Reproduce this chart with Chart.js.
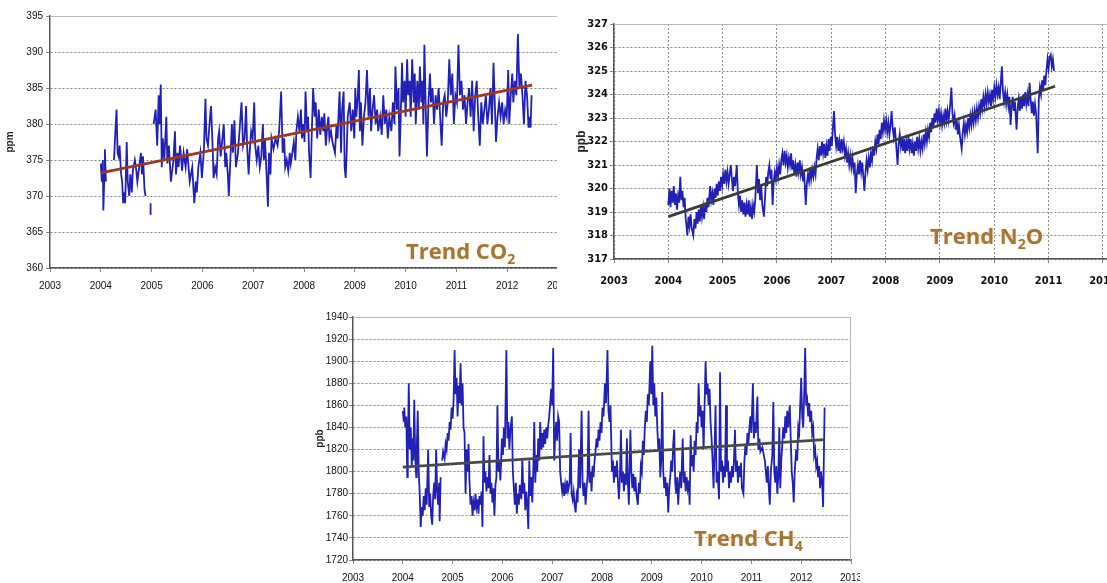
<!DOCTYPE html>
<html><head><meta charset="utf-8">
<script src="https://cdn.jsdelivr.net/npm/chart.js@4.4.1/dist/chart.umd.min.js"></script>
<style>
html,body{margin:0;padding:0;background:#fff;}
body{width:1107px;height:583px;position:relative;overflow:hidden;}
.panel{position:absolute;overflow:hidden;background:#fff;}
.panel canvas{position:absolute;left:0;top:0;}
.trend{position:absolute;font-family:'Open Sans',sans-serif;font-weight:700;font-size:22px;line-height:22px;color:#a67635;white-space:nowrap;text-shadow:0 0 3px #f5e9cc;}
.trend sub{font-size:14px;vertical-align:-5px;line-height:0;}
</style></head><body>
<div class="panel" style="left:0;top:0;width:557px;height:294px"><canvas id="c1" width="590" height="294"></canvas></div>
<div class="panel" style="left:563px;top:0;width:544px;height:294px"><canvas id="c2" width="620" height="294"></canvas></div>
<div class="panel" style="left:300px;top:296px;width:560px;height:287px"><canvas id="c3" width="580" height="287"></canvas></div>
<div class="trend" style="left:406px;top:239px">Trend CO<sub>2</sub></div>
<div class="trend" style="left:930px;top:224px">Trend N<sub>2</sub>O</div>
<div class="trend" style="left:694px;top:526px">Trend CH<sub>4</sub></div>
<script>
const yearLabels = ['2003','2004','2005','2006','2007','2008','2009','2010','2011','2012','2013'];
const co2YLabels = ['360','365','370','375','380','385','390','395'];
const n2oYLabels = ['317','318','319','320','321','322','323','324','325','326','327'];
const ch4YLabels = ['1720','1740','1760','1780','1800','1820','1840','1860','1880','1900','1920','1940'];

const co2Series = [
[2004.00,374.5],[2004.02,372],[2004.04,375],[2004.05,368],[2004.07,373],[2004.08,376.5],[2004.10,372],[2004.12,null],
[2004.19,370.5],[2004.21,null],
[2004.26,375],[2004.28,378],[2004.31,382],[2004.33,376],[2004.35,375.5],[2004.37,377],[2004.40,373],[2004.42,372],[2004.44,369],[2004.46,370.5],[2004.48,369],
[2004.51,377.5],[2004.53,372],[2004.56,370],[2004.58,373],[2004.61,370.5],[2004.63,373.5],[2004.67,375],[2004.70,373.5],[2004.72,372],[2004.79,376],
[2004.81,373],[2004.83,375.5],[2004.86,371],[2004.88,370],[2004.90,null],[2004.97,367.5],[2004.98,369],[2005.00,null],
[2005.04,380],[2005.08,382],[2005.11,377],[2005.14,384],[2005.16,380],[2005.18,385.5],[2005.20,374],[2005.22,378],[2005.25,375],[2005.29,381],
[2005.31,374.5],[2005.34,377],[2005.38,372],[2005.43,375],[2005.46,379],[2005.48,373],[2005.51,376],[2005.53,374],[2005.56,377],[2005.60,373.5],
[2005.63,376],[2005.67,374],[2005.70,376.5],[2005.75,372],[2005.80,374],[2005.84,369],[2005.87,372],[2005.89,370.5],[2005.92,374],[2005.96,376],
[2005.99,372.5],[2006.03,376.5],[2006.06,383.5],[2006.08,378],[2006.11,377],[2006.14,380],[2006.17,382.5],[2006.20,377],[2006.22,372.5],[2006.25,374],
[2006.28,373],[2006.31,378],[2006.33,379],[2006.36,375.5],[2006.38,377],[2006.42,380],[2006.45,374],[2006.47,376],[2006.50,373],[2006.52,370],
[2006.55,375],[2006.58,380],[2006.60,376],[2006.63,380.5],[2006.66,374],[2006.70,376],[2006.73,379],[2006.77,383],[2006.80,377],[2006.83,378],
[2006.86,382.5],[2006.88,377],[2006.91,373],[2006.93,376],[2006.96,379],[2006.99,378],[2007.02,383],[2007.04,377],[2007.07,375],[2007.10,377],
[2007.13,374],[2007.16,375.5],[2007.19,380],[2007.21,375],[2007.23,378],[2007.27,372],[2007.29,368.5],[2007.31,376],[2007.34,373],[2007.36,378],
[2007.40,376.5],[2007.44,378],[2007.48,377],[2007.51,379],[2007.55,384.5],[2007.58,376],[2007.61,378],[2007.63,374],[2007.66,375],[2007.69,373.5],
[2007.72,376],[2007.74,374.5],[2007.77,376],[2007.80,377.5],[2007.83,375],[2007.85,379],[2007.88,381],[2007.91,379],[2007.94,382],[2007.96,378],
[2007.99,380],[2008.01,377.5],[2008.03,384.5],[2008.06,379],[2008.08,381],[2008.10,376],[2008.13,372.5],[2008.15,378],[2008.18,385],[2008.21,381],
[2008.23,383],[2008.26,378],[2008.29,382],[2008.32,378.5],[2008.35,381],[2008.38,379],[2008.40,381.5],[2008.43,377],[2008.45,379],[2008.48,381],
[2008.50,378],[2008.53,379],[2008.56,377.5],[2008.61,376],[2008.64,380],[2008.66,378],[2008.70,384.5],[2008.73,376],[2008.75,382],[2008.78,384.5],
[2008.80,374],[2008.82,372.5],[2008.84,376],[2008.86,381],[2008.90,383],[2008.93,379],[2008.96,382],[2008.99,378],[2009.01,385],[2009.03,381],
[2009.06,384],[2009.08,387.5],[2009.10,379],[2009.12,383],[2009.15,377],[2009.18,381],[2009.21,383],[2009.24,387.5],[2009.27,381],[2009.30,385],
[2009.32,379],[2009.35,382],[2009.38,384],[2009.41,380],[2009.44,382],[2009.46,379],[2009.50,381],[2009.53,378.5],[2009.56,384],[2009.59,380],
[2009.62,382],[2009.65,378],[2009.68,381],[2009.72,379],[2009.75,383],[2009.78,380],[2009.80,388],[2009.83,382],[2009.86,385],[2009.88,375.5],
[2009.90,380],[2009.93,388.5],[2009.95,383],[2009.98,386],[2010.00,381],[2010.03,389],[2010.05,384],[2010.08,386],[2010.10,381],[2010.13,389],
[2010.16,383],[2010.18,387],[2010.20,380],[2010.23,386],[2010.26,382],[2010.28,388],[2010.31,383],[2010.33,386],[2010.35,380],[2010.37,391],
[2010.40,381],[2010.42,375.5],[2010.45,383],[2010.48,387],[2010.50,383],[2010.53,385],[2010.56,380],[2010.59,384],[2010.62,382],[2010.65,385],
[2010.68,381],[2010.71,377],[2010.74,383],[2010.77,384],[2010.80,381],[2010.83,383],[2010.86,389],[2010.89,384],[2010.92,387],[2010.95,380],
[2010.98,384],[2011.01,383],[2011.04,391],[2011.07,384],[2011.10,386],[2011.13,382],[2011.16,384],[2011.19,380],[2011.22,383],[2011.25,385],
[2011.28,381],[2011.31,386],[2011.34,379],[2011.37,384],[2011.40,386],[2011.43,381],[2011.46,377],[2011.49,383],[2011.52,380],[2011.55,382],
[2011.58,384],[2011.61,380],[2011.64,382],[2011.67,385],[2011.70,380],[2011.73,388.5],[2011.76,382],[2011.78,377.5],[2011.81,381],[2011.84,383],
[2011.87,381],[2011.90,383],[2011.93,380],[2011.96,382],[2011.99,381],[2012.02,387.5],[2012.04,380],[2012.07,384],[2012.10,387],[2012.12,383],
[2012.15,386],[2012.18,384],[2012.21,392.5],[2012.24,385],[2012.27,387],[2012.30,384],[2012.33,380],[2012.36,386],[2012.39,384],[2012.42,379.5],
[2012.44,381],[2012.46,379.5],[2012.48,384]
];
const co2Trend = [[2004.00,373.2],[2012.49,385.4]];

const n2oSeries = [
[2004.00,319.3],[2004.02,320],[2004.04,319.2],[2004.06,319.9],[2004.08,319.4],[2004.10,320.1],[2004.12,319.3],[2004.14,319.8],[2004.16,319.1],[2004.18,319.7],
[2004.20,319.4],[2004.22,320.5],[2004.24,319.5],[2004.26,319.9],[2004.28,319.2],[2004.30,319.6],[2004.32,318.7],[2004.34,318.3],[2004.35,318],[2004.37,318.8],
[2004.39,318.4],[2004.41,318.9],[2004.43,318.3],[2004.46,318],[2004.48,318.7],[2004.50,318.3],[2004.52,319],[2004.54,318.5],[2004.56,319.1],[2004.58,318.6],
[2004.60,319.3],[2004.62,318.8],[2004.64,319.2],[2004.66,318.7],[2004.68,319.4],[2004.70,319],[2004.72,319.6],[2004.74,319.2],[2004.77,320.1],[2004.79,319.5],
[2004.81,319.8],[2004.83,319.3],[2004.85,320],[2004.87,319.6],[2004.89,320.2],[2004.91,319.7],[2004.93,320.3],[2004.95,319.9],[2004.97,320.5],[2004.99,320.1],
[2005.01,320.6],[2005.03,320.2],[2005.05,320.8],[2005.07,320.3],[2005.09,320.7],[2005.11,320.2],[2005.13,320.6],[2005.15,321],[2005.17,320.4],[2005.19,319.9],
[2005.21,320.5],[2005.23,320.1],[2005.26,321],[2005.28,319.8],[2005.30,319.3],[2005.32,319.7],[2005.34,319],[2005.36,319.5],[2005.38,318.9],[2005.40,319.4],
[2005.42,318.8],[2005.44,319.3],[2005.46,318.9],[2005.48,319.5],[2005.50,318.8],[2005.52,319.2],[2005.54,318.7],[2005.56,319.3],[2005.58,319],[2005.60,319.5],
[2005.63,321],[2005.65,319.8],[2005.67,320.4],[2005.69,319.5],[2005.71,320.1],[2005.73,319.3],[2005.76,318.8],[2005.78,319.6],[2005.80,320.5],[2005.82,320.1],
[2005.84,320.7],[2005.86,321],[2005.88,320.4],[2005.90,320.8],[2005.92,319.3],[2005.94,320.3],[2005.96,320.7],[2005.98,320.4],[2006.00,320.9],[2006.02,320.5],
[2006.04,321],[2006.06,320.6],[2006.08,321.2],[2006.10,321.5],[2006.12,321],[2006.14,321.6],[2006.16,321.1],[2006.18,321.4],[2006.20,320.9],[2006.22,321.3],
[2006.24,321],[2006.26,321.5],[2006.28,320.8],[2006.30,321.2],[2006.32,320.6],[2006.34,321],[2006.36,320.5],[2006.38,321.1],[2006.40,320.7],[2006.42,321.2],
[2006.44,320.6],[2006.46,320.9],[2006.48,320.3],[2006.50,320.7],[2006.53,319.3],[2006.55,320.2],[2006.57,320.6],[2006.59,320.3],[2006.61,320.9],[2006.63,320.4],
[2006.65,320.8],[2006.67,320.5],[2006.69,320.9],[2006.71,320.6],[2006.73,321.3],[2006.75,321.7],[2006.77,321.2],[2006.79,321.8],[2006.81,321.4],[2006.83,322],
[2006.85,321.5],[2006.87,321.9],[2006.89,321.3],[2006.91,321.8],[2006.93,321.4],[2006.95,322.1],[2006.97,321.6],[2006.99,322.2],[2007.01,321.8],[2007.03,322.6],
[2007.05,323.3],[2007.07,322.3],[2007.09,321.8],[2007.11,322.2],[2007.13,321.6],[2007.15,322],[2007.17,321.5],[2007.19,322.1],[2007.21,321.7],[2007.23,322],
[2007.25,321.4],[2007.27,321.7],[2007.29,321.1],[2007.31,321.5],[2007.33,321],[2007.35,321.4],[2007.37,320.9],[2007.39,321.3],[2007.41,320.8],[2007.43,321.1],
[2007.45,319.8],[2007.47,320.6],[2007.49,321],[2007.51,320.6],[2007.53,321.2],[2007.55,320.7],[2007.57,321.1],[2007.59,320.5],[2007.61,319.9],[2007.63,320.7],
[2007.65,321.2],[2007.67,320.8],[2007.69,321.3],[2007.71,320.9],[2007.73,321.5],[2007.75,321.2],[2007.77,321.8],[2007.79,321.4],[2007.81,322],[2007.83,321.7],
[2007.85,322.3],[2007.87,321.9],[2007.89,322.5],[2007.91,322.1],[2007.93,322.8],[2007.95,322.4],[2007.97,322.9],[2007.99,322.5],[2008.01,322.9],[2008.03,322.4],
[2008.05,322.8],[2008.07,322.3],[2008.09,322.7],[2008.11,323.3],[2008.13,322.6],[2008.15,322.2],[2008.17,322.6],[2008.19,322],[2008.22,321],[2008.24,321.9],
[2008.26,322.3],[2008.28,321.8],[2008.30,322.2],[2008.32,321.6],[2008.34,322.1],[2008.36,321.5],[2008.38,322],[2008.40,321.6],[2008.42,322.2],[2008.44,321.7],
[2008.46,322.1],[2008.48,321.5],[2008.50,321.9],[2008.52,321.4],[2008.54,322],[2008.56,321.6],[2008.58,322.2],[2008.60,321.7],[2008.62,322.1],[2008.64,321.6],
[2008.66,322],[2008.68,321.7],[2008.70,322.3],[2008.72,321.9],[2008.74,322.4],[2008.76,322],[2008.78,322.5],[2008.80,322.2],[2008.82,322.8],[2008.84,322.4],
[2008.86,323],[2008.88,322.6],[2008.90,323.2],[2008.92,322.8],[2008.94,323.4],[2008.96,322.9],[2008.98,323.3],[2009.00,322.8],[2009.02,323.2],[2009.04,322.7],
[2009.06,323.1],[2009.08,322.8],[2009.10,323.4],[2009.12,322.9],[2009.14,323.3],[2009.16,322.9],[2009.19,323.6],[2009.21,324.3],[2009.23,323.2],[2009.25,322.8],
[2009.27,323.1],[2009.29,322.5],[2009.31,322.9],[2009.33,322.3],[2009.35,322.7],[2009.37,322.2],[2009.40,321.7],[2009.42,322.4],[2009.44,322.8],[2009.46,322.3],
[2009.48,322.7],[2009.50,322.4],[2009.52,323],[2009.54,322.6],[2009.56,323.1],[2009.58,322.7],[2009.60,323.2],[2009.62,322.8],[2009.64,323.3],[2009.66,322.9],
[2009.68,323.4],[2009.70,323],[2009.72,323.5],[2009.74,323.2],[2009.76,323.8],[2009.78,323.4],[2009.80,323.9],[2009.82,323.5],[2009.84,324],[2009.86,323.6],
[2009.88,324.1],[2009.90,323.7],[2009.92,324],[2009.94,323.5],[2009.96,324.2],[2009.98,323.8],[2010.00,324.3],[2010.02,323.9],[2010.04,324.4],[2010.06,324],
[2010.08,324.3],[2010.10,323.8],[2010.12,324.5],[2010.14,325.2],[2010.16,324.1],[2010.18,323.7],[2010.20,324.1],[2010.22,323.6],[2010.24,324],[2010.26,323.5],
[2010.28,323.9],[2010.30,322.7],[2010.32,323.5],[2010.34,323.9],[2010.36,323.3],[2010.38,323.7],[2010.41,322.5],[2010.43,323.4],[2010.45,323.8],[2010.47,323.3],
[2010.49,323.9],[2010.51,323.4],[2010.53,324],[2010.55,323.5],[2010.57,324.1],[2010.59,323.6],[2010.61,324],[2010.63,323.5],[2010.65,324.5],[2010.67,323.8],
[2010.69,323.2],[2010.71,323.7],[2010.73,323.1],[2010.75,323.6],[2010.77,323.2],[2010.80,321.5],[2010.82,323.8],[2010.84,324.3],[2010.86,324],[2010.88,324.6],
[2010.90,324.2],[2010.92,324.8],[2010.94,324.4],[2010.96,325],[2010.98,325.5],[2011.00,325.1],[2011.02,325.6],[2011.04,325.7],[2011.06,325.2],[2011.08,325.5],
[2011.10,325]
];
const n2oTrend = [[2004.00,318.8],[2011.12,324.35]];

const ch4Series = [
[2004.00,1855],[2004.02,1845],[2004.03,1858],[2004.05,1840],[2004.07,1850],[2004.09,1795],[2004.10,1815],[2004.12,1880],[2004.14,1820],[2004.16,1840],
[2004.18,1805],[2004.20,1830],[2004.21,1810],[2004.23,1865],[2004.25,1812],[2004.27,1795],[2004.28,1820],[2004.30,1855],[2004.32,1800],[2004.34,1780],
[2004.36,1750],[2004.38,1768],[2004.40,1760],[2004.42,1778],[2004.44,1765],[2004.46,1785],[2004.48,1770],[2004.51,1820],[2004.53,1768],[2004.55,1780],
[2004.57,1760],[2004.59,1752],[2004.61,1778],[2004.63,1790],[2004.65,1775],[2004.67,1820],[2004.69,1782],[2004.71,1770],[2004.73,1790],[2004.74,1755],
[2004.76,1795],[2004.77,null],[2004.79,1810],[2004.81,1818],[2004.84,1812],[2004.86,1825],[2004.88,1820],[2004.90,1835],[2004.92,1828],[2004.94,1845],
[2004.96,1838],[2004.98,1858],[2005.00,1848],[2005.02,1865],[2005.04,1910],[2005.06,1870],[2005.08,1885],[2005.10,1850],[2005.12,1878],[2005.14,1862],
[2005.16,1898],[2005.18,1860],[2005.20,1880],[2005.22,1840],[2005.24,1835],[2005.26,1780],[2005.28,1820],[2005.30,1800],[2005.32,1825],[2005.34,1790],
[2005.36,1770],[2005.38,1778],[2005.40,1760],[2005.42,1772],[2005.44,1765],[2005.46,1780],[2005.48,1768],[2005.50,1775],[2005.52,1762],[2005.54,1778],
[2005.56,1770],[2005.58,1782],[2005.60,1750],[2005.62,1832],[2005.64,1790],[2005.66,1800],[2005.68,1782],[2005.70,1795],[2005.72,1785],[2005.74,1815],
[2005.76,1780],[2005.78,1790],[2005.80,1772],[2005.82,1785],[2005.84,1760],[2005.86,1788],[2005.88,1795],[2005.90,1860],[2005.92,1800],[2005.94,1810],
[2005.96,1792],[2005.99,1830],[2006.01,1815],[2006.03,1840],[2006.05,1822],[2006.08,1910],[2006.10,1830],[2006.12,1845],[2006.14,1820],[2006.16,1838],
[2006.19,1850],[2006.21,1800],[2006.23,1785],[2006.25,1770],[2006.27,1790],[2006.29,1762],[2006.31,1780],[2006.33,1770],[2006.35,1788],[2006.38,1775],
[2006.40,1812],[2006.42,1780],[2006.44,1790],[2006.46,1765],[2006.48,1782],[2006.50,1770],[2006.52,1748],[2006.54,1810],[2006.56,1778],[2006.58,1795],
[2006.60,1772],[2006.62,1800],[2006.64,1845],[2006.66,1790],[2006.68,1815],[2006.70,1800],[2006.72,1830],[2006.74,1810],[2006.76,1845],[2006.78,1820],
[2006.80,1835],[2006.82,1822],[2006.84,1838],[2006.86,1825],[2006.88,1840],[2006.90,1830],[2006.92,1842],[2006.94,1850],[2006.96,1862],[2006.98,1875],
[2007.00,1860],[2007.02,1912],[2007.04,1810],[2007.06,1832],[2007.08,1845],[2007.10,1828],[2007.12,1850],[2007.14,1845],[2007.16,1800],[2007.18,1790],
[2007.20,1782],[2007.22,1790],[2007.24,1778],[2007.26,1788],[2007.28,1780],[2007.30,1792],[2007.32,1783],[2007.35,1790],[2007.37,1835],[2007.39,1780],
[2007.41,1775],[2007.43,1782],[2007.45,1770],[2007.47,1763],[2007.49,1778],[2007.51,1772],[2007.54,1820],[2007.56,1785],[2007.59,1855],[2007.61,1790],
[2007.63,1778],[2007.65,1790],[2007.67,1770],[2007.69,1785],[2007.71,1795],[2007.73,1855],[2007.75,1790],[2007.77,1800],[2007.79,1782],[2007.81,1805],
[2007.83,1795],[2007.85,1810],[2007.87,1818],[2007.89,1830],[2007.91,1822],[2007.93,1838],[2007.95,1828],[2007.97,1845],[2007.99,1835],[2008.01,1858],
[2008.03,1850],[2008.06,1880],[2008.08,1862],[2008.11,1910],[2008.13,1855],[2008.15,1845],[2008.17,1860],[2008.20,1800],[2008.22,1810],[2008.24,1790],
[2008.26,1805],[2008.28,1795],[2008.30,1810],[2008.32,1790],[2008.34,1775],[2008.36,1795],[2008.38,1838],[2008.40,1790],[2008.42,1800],[2008.44,1782],
[2008.46,1798],[2008.48,1788],[2008.50,1830],[2008.52,1790],[2008.54,1770],[2008.57,1838],[2008.59,1800],[2008.61,1785],[2008.63,1798],[2008.65,1782],
[2008.67,1795],[2008.69,1780],[2008.72,1770],[2008.74,1790],[2008.76,1780],[2008.78,1805],[2008.80,1800],[2008.82,1828],[2008.84,1815],[2008.86,1840],
[2008.88,1855],[2008.90,1845],[2008.92,1870],[2008.94,1860],[2008.97,1900],[2008.99,1870],[2009.01,1914],[2009.03,1860],[2009.05,1880],[2009.07,1850],
[2009.09,1867],[2009.11,1840],[2009.13,1820],[2009.15,1830],[2009.17,1795],[2009.19,1810],[2009.21,1872],[2009.23,1800],[2009.25,1785],[2009.27,1795],
[2009.29,1778],[2009.31,1790],[2009.33,1763],[2009.35,1785],[2009.37,1795],[2009.39,1810],[2009.41,1800],[2009.43,1825],[2009.45,1838],[2009.47,1790],
[2009.49,1780],[2009.51,1795],[2009.53,1770],[2009.55,1788],[2009.57,1800],[2009.59,1785],[2009.62,1830],[2009.64,1790],[2009.66,1800],[2009.68,1782],
[2009.70,1795],[2009.72,1785],[2009.74,1792],[2009.76,1770],[2009.78,1833],[2009.80,1805],[2009.82,1815],[2009.84,1800],[2009.86,1828],[2009.88,1815],
[2009.90,1845],[2009.92,1835],[2009.94,1880],[2009.96,1850],[2009.98,1860],[2010.00,1840],[2010.02,1855],[2010.04,1820],[2010.06,1860],[2010.08,1900],
[2010.10,1870],[2010.12,1880],[2010.14,1860],[2010.16,1875],[2010.18,1845],[2010.20,1830],[2010.22,1810],[2010.24,1785],[2010.26,1820],[2010.28,1860],
[2010.30,1790],[2010.32,1800],[2010.35,1775],[2010.37,1890],[2010.39,1800],[2010.41,1810],[2010.43,1790],[2010.45,1805],[2010.47,1795],[2010.49,1860],
[2010.51,1800],[2010.53,1810],[2010.55,1785],[2010.57,1800],[2010.59,1790],[2010.61,1805],[2010.63,1795],[2010.65,1810],[2010.67,1838],[2010.69,1800],
[2010.71,1810],[2010.73,1790],[2010.75,1805],[2010.77,1795],[2010.79,1808],[2010.81,1785],[2010.84,1780],[2010.86,1810],[2010.88,1825],[2010.90,1815],
[2010.92,1835],[2010.94,1825],[2010.96,1840],[2010.98,1850],[2011.00,1835],[2011.03,1880],[2011.05,1830],[2011.07,1845],[2011.09,1835],[2011.12,1868],
[2011.14,1820],[2011.16,1830],[2011.18,1818],[2011.22,1822],[2011.27,1810],[2011.29,1800],[2011.31,1790],[2011.33,1805],[2011.35,1785],[2011.37,1770],
[2011.39,1800],[2011.42,1815],[2011.44,1863],[2011.46,1800],[2011.48,1790],[2011.50,1805],[2011.52,1780],[2011.54,1795],[2011.56,1840],[2011.58,1785],
[2011.60,1810],[2011.62,1825],[2011.64,1840],[2011.66,1830],[2011.68,1850],[2011.70,1835],[2011.72,1855],[2011.74,1840],[2011.77,1860],[2011.79,1830],
[2011.81,1800],[2011.83,1790],[2011.85,1772],[2011.87,1800],[2011.90,1820],[2011.92,1810],[2011.94,1840],[2011.96,1835],[2011.98,1860],[2012.00,1885],
[2012.02,1850],[2012.04,1840],[2012.06,1870],[2012.08,1912],[2012.10,1860],[2012.12,1865],[2012.14,1850],[2012.16,1862],[2012.18,1845],[2012.20,1855],
[2012.22,1835],[2012.24,1840],[2012.26,1815],[2012.28,1820],[2012.30,1805],[2012.32,1810],[2012.34,1795],[2012.36,1805],[2012.38,1785],[2012.40,1800],
[2012.42,1790],[2012.44,1768],[2012.47,1858]
];
const ch4Trend = [[2004.00,1804],[2012.47,1829]];

function toXY(arr){ return arr.map(p => ({x:p[0], y:p[1]})); }

const framePlugin = {
  id:'frame',
  beforeDatasetsDraw(chart){
    const a = chart.chartArea, ctx = chart.ctx;
    ctx.save();
    ctx.strokeStyle = '#b8b8b8';
    ctx.lineWidth = 1;
    ctx.beginPath();
    ctx.moveTo(a.left, Math.round(a.top)+0.5); ctx.lineTo(a.right, Math.round(a.top)+0.5);
    ctx.moveTo(Math.round(a.right)-0.5, a.top); ctx.lineTo(Math.round(a.right)-0.5, a.bottom);
    ctx.stroke();
    ctx.restore();
  }
};

function makeChart(id, cfg){
  return new Chart(document.getElementById(id), {
    type:'line',
    data:{datasets:[
      {data:toXY(cfg.series), borderColor:'#2121b6', borderWidth:1.8, pointRadius:0, tension:0, spanGaps:false, order:2},
      {data:toXY(cfg.trend), borderColor:cfg.trendColor, borderWidth:2.8, pointRadius:0, order:1}
    ]},
    options:{
      responsive:false, animation:false, devicePixelRatio:1, events:[],
      layout:{autoPadding:false, padding:{left:0, top:cfg.top, right:cfg.right, bottom:0}},
      plugins:{legend:{display:false}, tooltip:{enabled:false}},
      scales:{
        x:{type:'linear', min:2003, max:2013,
           afterFit:s=>{s.height=cfg.xh;},
           ticks:{stepSize:1, autoSkip:false, maxRotation:0, padding:cfg.xpad, color:'#111', font:cfg.xfont,
                  callback:(v,i)=>yearLabels[i]},
           grid:{drawOnChartArea:cfg.vgrid, color:'#8c8c8c', tickLength:4, tickColor:'#888'},
           border:{color:'#555', width:1.5, dash:cfg.vgrid?[2,2]:[]}},
        y:{type:'linear', min:cfg.ymin, max:cfg.ymax,
           afterFit:s=>{s.width=cfg.yw;},
           ticks:{stepSize:cfg.ystep, padding:cfg.ypad, color:'#111', font:cfg.yfont,
                  callback:(v,i)=>cfg.yLabels[i]},
           grid:{color:c=> (c.index===cfg.yLabels.length-1) ? 'rgba(0,0,0,0)' : '#858585', tickLength:4, tickColor:'#888'},
           border:{color:'#555', width:1.5, dash:[2,2]},
           title:{display:true, text:cfg.ytitle, color:'#222', font:cfg.tfont, padding:{top:cfg.tpad, bottom:0}}}
      }
    },
    plugins:[framePlugin]
  });
}

const baseFont = "'Liberation Sans', Arial, sans-serif";
const narrowFont = "'Liberation Sans Narrow','DejaVu Sans Condensed','Liberation Sans',sans-serif";

makeChart('c1', {series:co2Series, trend:co2Trend, trendColor:'#9c3a20',
  top:16, right:32, xh:26, xpad:8, yw:50, ypad:3,
  ymin:360, ymax:395, ystep:5, yLabels:co2YLabels, ytitle:'ppm', tpad:4, vgrid:false,
  xfont:{size:10, family:baseFont}, yfont:{size:10, family:baseFont}, tfont:{size:10, weight:'bold', family:baseFont}});

makeChart('c2', {series:n2oSeries, trend:n2oTrend, trendColor:'#3c3c3c',
  top:24, right:22, xh:35, xpad:12, yw:51, ypad:2,
  ymin:317, ymax:327, ystep:1, yLabels:n2oYLabels, ytitle:'ppb', tpad:11, vgrid:true,
  xfont:{size:11, weight:'bold', family:narrowFont}, yfont:{size:11, weight:'bold', family:narrowFont}, tfont:{size:12, weight:'bold', family:baseFont}});

makeChart('c3', {series:ch4Series, trend:ch4Trend, trendColor:'#4a4a4a',
  top:21, right:29, xh:23, xpad:8, yw:53, ypad:1,
  ymin:1720, ymax:1940, ystep:20, yLabels:ch4YLabels, ytitle:'ppb', tpad:14, vgrid:false,
  xfont:{size:10, family:baseFont}, yfont:{size:10, family:baseFont}, tfont:{size:10, weight:'bold', family:baseFont}});
</script>
</body></html>
